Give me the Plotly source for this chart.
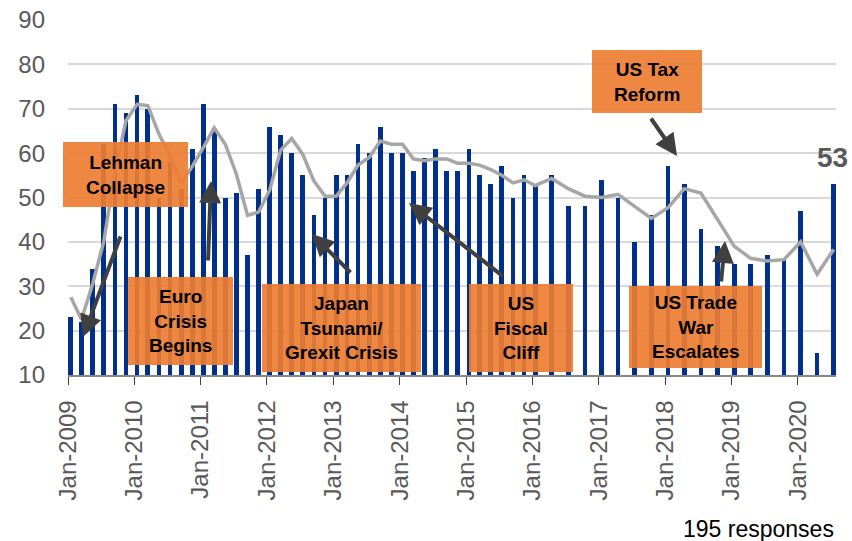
import plotly.graph_objects as go

# survey dates: every two months to end of 2015, then quarterly
bimonthly_years = [2009, 2010, 2011, 2012, 2013, 2014, 2015]
bimonthly_months = ["01", "03", "05", "07", "09", "11"]
quarterly_years = [2016, 2017, 2018, 2019, 2020]
quarterly_months = ["01", "04", "07", "10"]

periods = [f"{y}-{m}" for y in bimonthly_years for m in bimonthly_months]
periods += [f"{y}-{m}" for y in quarterly_years for m in quarterly_months]
periods = periods[:61]  # last survey is Jul-2020

readings = [
    23, 22, 34, 62, 71, 69,   # 2009
    73, 70, 50, 58, 52, 61,   # 2010
    71, 65, 50, 51, 37, 52,   # 2011
    66, 64, 60, 55, 46, 50,   # 2012
    55, 55, 62, 60, 66, 60,   # 2013
    60, 56, 59, 61, 56, 56,   # 2014
    61, 55, 53, 57, 50, 55,   # 2015
    53, 55, 48, 48,           # 2016
    54, 50, 40, 46,           # 2017
    57, 53, 43, 39,           # 2018
    35, 35, 37, 36,           # 2019
    47, 15, 53,               # 2020
]

moving_avg = [
    27.5, 22.5, 30.5, 40.0, 55.7, 67.3,
    71.0, 70.7, 64.3, 59.3, 53.3, 57.0,
    61.3, 65.7, 62.0, 55.3, 46.0, 46.7,
    51.7, 60.7, 63.3, 59.7, 53.7, 50.3,
    50.3, 53.3, 57.3, 59.0, 62.7, 62.0,
    62.0, 58.7, 58.3, 58.7, 58.7, 57.7,
    57.7, 57.3, 56.3, 55.0, 53.3, 54.0,
    52.7, 54.3, 52.0, 50.3,
    50.0, 50.7, 48.0, 45.3,
    47.7, 52.0, 51.0, 45.0,
    39.0, 36.3, 35.7, 36.0,
    40.0, 32.7, 38.3,
]

tick_years = list(range(2009, 2021))
tick_vals = [f"{y}-01-01" for y in tick_years]
tick_text = [f"Jan-{y}" for y in tick_years]

events = [
    "Lehman<br>Collapse",
    "Euro<br>Crisis<br>Begins",
    "Japan<br>Tsunami/<br>Grexit Crisis",
    "US<br>Fiscal<br>Cliff",
    "US Tax<br>Reform",
    "US Trade<br>War<br>Escalates",
]

FONT = "Liberation Sans, Arial, sans-serif"
ORANGE = "#ED7D31"
ARROW = "#404040"

# plot area in pixels, used to place the callouts
L, T, W, H = 68, 20, 768, 355


def px(x):
    return (x - L) / W


def py(y):
    return (T + H - y) / H


fig = go.Figure()

fig.add_trace(go.Bar(
    x=periods,
    y=readings,
    xperiod="M1",
    xperiodalignment="middle",
    width=26 * 24 * 3600 * 1000,
    marker=dict(color="#00308C", line=dict(width=0)),
    name="Readings",
))

fig.add_trace(go.Scatter(
    x=periods,
    y=moving_avg,
    xperiod="M1",
    xperiodalignment="middle",
    mode="lines",
    line=dict(color="#A6A6A6", width=3.5),
    name="Moving average",
))

# callout boxes (x0, x1, y0, y1 in pixels)
boxes = [
    (63, 188, 142, 207),
    (128, 233, 277, 365),
    (262, 421, 284, 372),
    (469, 573, 284, 372),
    (592, 702, 50, 113),
    (629, 762, 286, 368),
]

# arrows (tail x, tail y, tip x, tip y in pixels)
arrows = [
    (121, 235, 83, 337),
    (208, 262, 211, 181),
    (352, 274, 312, 234),
    (504, 277, 409, 203),
    (650, 117, 677, 156),
    (721, 283, 725, 241),
]

for (x0, x1, y0, y1), label in zip(boxes, events):
    fig.add_shape(
        type="rect", xref="paper", yref="paper",
        x0=px(x0), x1=px(x1), y0=py(y1), y1=py(y0),
        fillcolor=ORANGE, opacity=0.92, line=dict(width=0), layer="above",
    )
    fig.add_annotation(
        x=px((x0 + x1) / 2), y=py((y0 + y1) / 2), xref="paper", yref="paper",
        xanchor="center", yanchor="middle",
        text=f"<b>{label}</b>", showarrow=False, align="center",
        font=dict(family=FONT, size=19, color="#000000"),
    )

for tx, ty, hx, hy in arrows:
    fig.add_annotation(
        x=px(hx), y=py(hy), xref="paper", yref="paper",
        ax=tx - hx, ay=ty - hy, text="", showarrow=True,
        arrowhead=2, arrowsize=1.1, arrowwidth=4, arrowcolor=ARROW, standoff=0,
    )

fig.add_annotation(
    x=px(832), y=py(157), xref="paper", yref="paper",
    xanchor="center", yanchor="middle",
    text="<b>53</b>", showarrow=False,
    font=dict(family=FONT, size=28, color="#595959"),
)

fig.add_annotation(
    x=px(836), y=py(529), xref="paper", yref="paper",
    xanchor="right", yanchor="middle", text="195 responses", showarrow=False,
    font=dict(family=FONT, size=23, color="#000000"),
)

fig.update_layout(
    width=852,
    height=541,
    margin=dict(l=L, r=852 - L - W, t=T, b=541 - T - H),
    plot_bgcolor="white",
    paper_bgcolor="white",
    showlegend=False,
    bargap=0,
    xaxis=dict(
        type="date",
        range=["2009-01-01", "2020-07-29"],
        tickvals=tick_vals,
        ticktext=tick_text,
        tickangle=-90,
        ticks="outside",
        ticklen=8,
        tickcolor=ARROW,
        showline=True,
        linecolor="#868686",
        linewidth=1.5,
        showgrid=False,
        automargin=False,
        ticklabelstandoff=6,
        tickfont=dict(family=FONT, size=24, color="#595959"),
    ),
    yaxis=dict(
        range=[10, 90],
        dtick=10,
        showgrid=True,
        gridcolor="#D9D9D9",
        gridwidth=1.5,
        zeroline=False,
        automargin=False,
        ticklabelstandoff=22,
        tickfont=dict(family=FONT, size=24, color="#595959"),
    ),
)

# the page body has a default 8px margin; drop it so the figure fills the window
fig.write_html(
    "out.html",
    config={"displayModeBar": False},
    post_script="document.body.style.margin = '0';",
)
